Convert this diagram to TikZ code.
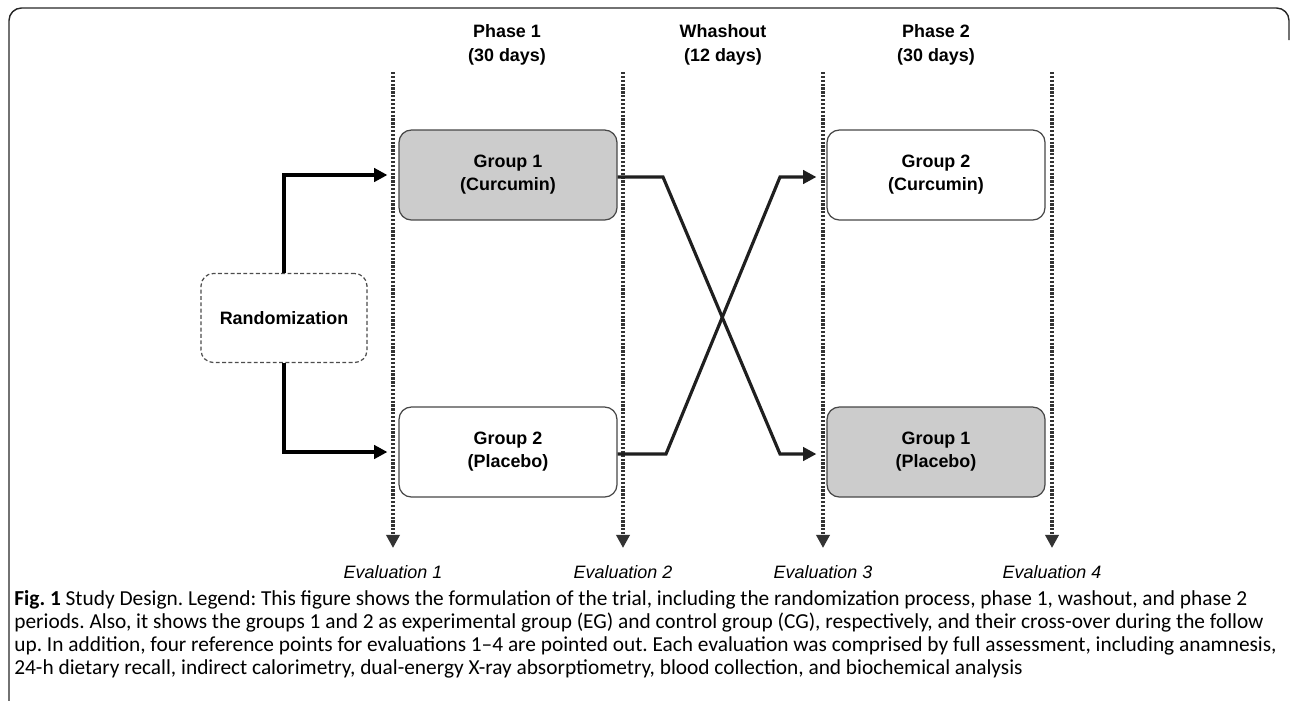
\documentclass[tikz,border=0pt]{standalone}
\usepackage{fontspec}
\setmainfont{Liberation Sans}
\newfontfamily\capfont[Ligatures=TeX]{Carlito}
\usetikzlibrary{arrows.meta,positioning,calc}

\begin{document}
\begin{tikzpicture}[x=0.02cm,y=-0.02cm,>={Triangle[length=7.5pt,width=7.5pt]},
		group/.style={rectangle,rounded corners=7pt,draw=black!72,line width=0.7pt,
			minimum width=4.36cm,minimum height=1.8cm,align=center,
			font=\bfseries\fontsize{10.2}{13}\selectfont},
		curc/.style={group,fill=black!20},
		plac/.style={group,fill=white},
		randbox/.style={group,draw=black!70,dash pattern=on 2.2pt off 1.4pt,
			minimum width=3.32cm,minimum height=1.78cm},
		head/.style={align=center,font=\bfseries\fontsize{10.2}{13.6}\selectfont},
		evaltxt/.style={font=\itshape\fontsize{10.2}{12}\selectfont},
		evalline/.style={draw=black!80,line width=2pt,dash pattern=on 1.3pt off 0.9pt},
		link/.style={draw=black,line width=2pt},
		cross/.style={draw=black!88,line width=1.8pt}]
		\useasboundingbox (0,0) rectangle (1290,700);
		
		% frame
		\draw[line width=0.8pt,black!85,rounded corners=0.25cm] (9,710) -- (9,8) -- (1289,8) -- (1289,40);
		
		% headers
		\node[head]  (ph1)  at (507,45)  {Phase 1\\(30 days)};
		\node[head]  (wash) at (723,45)  {Whashout\\(12 days)};
		\node[head]  (ph2)  at (936,45)  {Phase 2\\(30 days)};
		
		% evaluation points
		\coordinate (t1) at (393,72);  \coordinate (b1) at (393,548);
		\coordinate (t2) at (623,72);  \coordinate (b2) at (623,548);
		\coordinate (t3) at (823,72);  \coordinate (b3) at (823,548);
		\coordinate (t4) at (1052,72); \coordinate (b4) at (1052,548);
		\draw[evalline,->] (t1) -- (b1);
		\draw[evalline,->] (t2) -- (b2);
		\draw[evalline,->] (t3) -- (b3);
		\draw[evalline,->] (t4) -- (b4);
		\node[evaltxt] (e1) at (393,572)  {Evaluation 1};
		\node[evaltxt] (e2) at (623,572)  {Evaluation 2};
		\node[evaltxt] (e3) at (823,572)  {Evaluation 3};
		\node[evaltxt] (e4) at (1052,572) {Evaluation 4};
		
		% groups
		\node[randbox] (rand) at (284,318) {Randomization};
		\node[curc]    (g1a)  at (508,175) {Group 1\\(Curcumin)};
		\node[plac]    (g2a)  at (508,452) {Group 2\\(Placebo)};
		\node[plac]    (g2b)  at (936,175) {Group 2\\(Curcumin)};
		\node[curc]    (g1b)  at (936,452) {Group 1\\(Placebo)};
		
		\draw[->,link,shorten >=0.22cm] (rand) |- (g1a);
		\draw[->,link,shorten >=0.22cm] (rand) |- (g2a);
		
		% cross-over
		\coordinate (c1) at (663,177);
		\coordinate (c2) at (780,454);
		\coordinate (c3) at (666,454);
		\coordinate (c4) at (780,177);
		\draw[cross,->,shorten >=0.2cm] (g1a.east |- c1) -- (c1) -- (c2) -- (g1b.west |- c2);
		\draw[cross,->,shorten >=0.2cm] (g2a.east |- c3) -- (c3) -- (c4) -- (g2b.west |- c4);
		
		% caption
		\node[anchor=north west,align=left,inner sep=0pt,
		font=\capfont\fontsize{12.15}{13.04}\selectfont\frenchspacing] (cap) at (14,590)
		{\textbf{Fig. 1} Study Design. Legend: This figure shows the formulation of the trial, including the randomization process, phase 1, washout, and phase 2\\
			periods. Also, it shows the groups 1 and 2 as experimental group (EG) and control group (CG), respectively, and their cross-over during the follow\\
			up. In addition, four reference points for evaluations 1--4 are pointed out. Each evaluation was comprised by full assessment, including anamnesis,\\
			24-h dietary recall, indirect calorimetry, dual-energy X-ray absorptiometry, blood collection, and biochemical analysis};
\end{tikzpicture}
\end{document}
